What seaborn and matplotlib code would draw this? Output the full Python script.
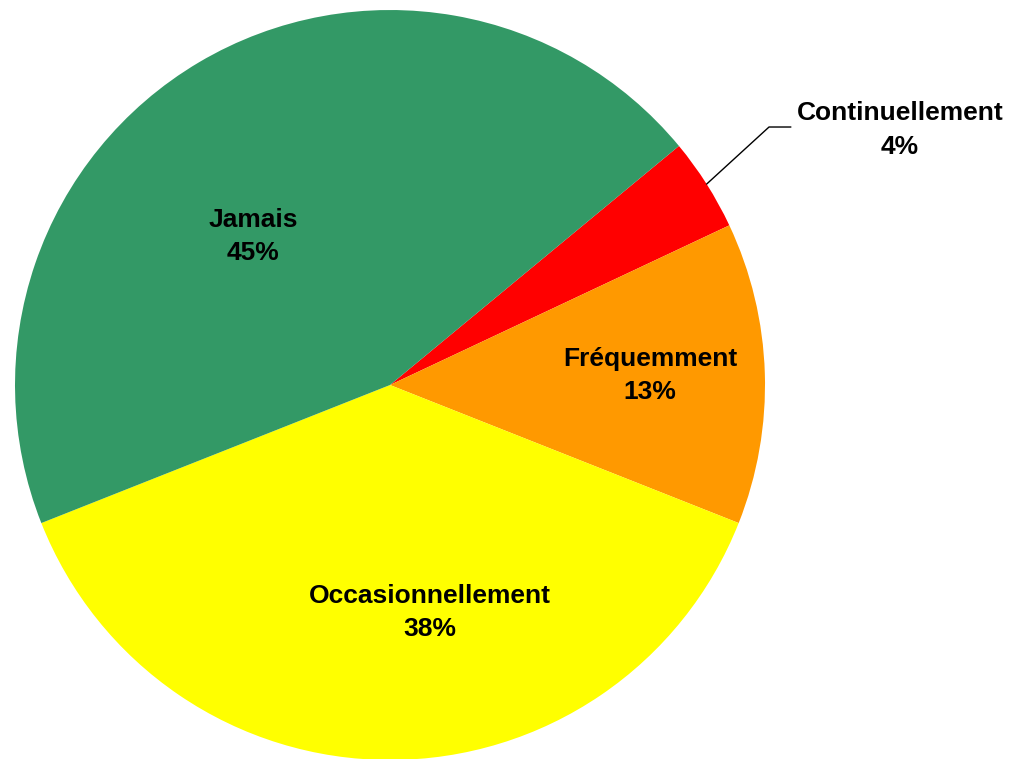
import numpy as np
import seaborn as sns
import matplotlib.pyplot as plt

# Pie data (clockwise order as in the original chart)
categories = ["Continuellement", "Fréquemment", "Occasionnellement", "Jamais"]
shares = [4, 13, 38, 45]
colors = ["#FF0000", "#FF9900", "#FFFF00", "#339966"]

sns.set_theme(style="white")
plt.rcParams["font.family"] = ["Liberation Sans", "DejaVu Sans"]

fig = plt.figure(figsize=(10.13, 7.59), dpi=100)
ax = fig.add_axes([0, 0, 1, 1])

wedges, _ = ax.pie(shares, colors=colors, startangle=39.6, counterclock=False,
                   wedgeprops=dict(linewidth=0))
ax.set_aspect("auto")
ax.set_xlim(-1.04, 1.6613)
ax.set_ylim(-0.9973, 1.0267)
ax.axis("off")

# label positions (data units, pie radius = 1)
label_pos = {
    "Jamais": (-0.365, 0.396),
    "Occasionnellement": (0.107, -0.606),
    "Fréquemment": (0.693, 0.026),
    "Continuellement": (1.36, 0.68),
}
for w, cat, val in zip(wedges, categories, shares):
    x, y = label_pos[cat]
    ax.text(x, y, f"{cat}\n{val}%", ha="center", va="center", fontsize=19,
            fontweight="bold", color="black", linespacing=1.48)

# leader line for the small slice
w = wedges[0]
mid = np.deg2rad((w.theta1 + w.theta2) / 2)
x0, y0 = np.cos(mid), np.sin(mid)
ax.plot([x0, 1.0107, 1.069], [y0, 0.688, 0.688], color="black", lw=1)

fig.savefig("out.png", dpi=100)
